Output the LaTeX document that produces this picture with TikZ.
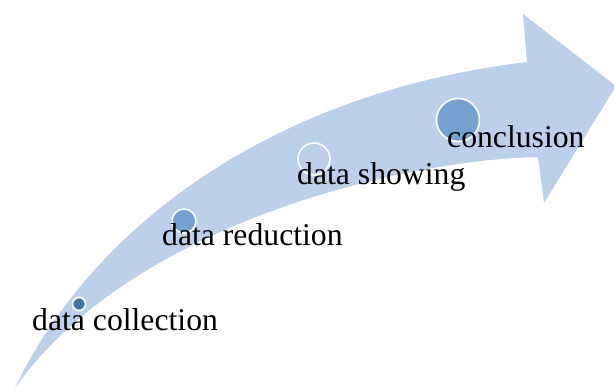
\documentclass[tikz,border=0pt]{standalone}
\usepackage{fontspec}
\setmainfont{Liberation Serif}
\definecolor{bandblue}{RGB}{189,208,233}
\definecolor{darkdot}{RGB}{65,113,156}
\definecolor{middot}{RGB}{116,161,207}
\begin{document}
\begin{tikzpicture}[x=1pt,y=-1pt,
  dot/.style={circle, draw=white, line width=1.6pt, inner sep=0pt},
  lbl/.style={anchor=base west, inner sep=0pt, font=\fontsize{31.7}{38}\selectfont}]
\useasboundingbox (0,0) rectangle (614,389);
% curved arrow band
\fill[bandblue] (15,388)
  .. controls (90,230) and (268,93) .. (527,62)
  -- (523,14) -- (616,86) -- (544,203) -- (538,157)
  .. controls (400,160) and (130,225) .. (15,388) -- cycle;
% circles
\node[dot, fill=darkdot, minimum size=13pt] (c1) at (79,304) {};
\node[dot, fill=middot, minimum size=24pt] (c2) at (184,221) {};
\node[dot, fill=bandblue, minimum size=32pt] (c3) at (314,159) {};
\node[dot, fill=middot, minimum size=43pt] (c4) at (458,120) {};
% labels
\node[lbl] (t1) at (32,330) {data collection};
\node[lbl] (t2) at (162,245) {data reduction};
\node[lbl] (t3) at (297,184) {data showing};
\node[lbl] (t4) at (447,147) {conclusion};
\end{tikzpicture}
\end{document}
